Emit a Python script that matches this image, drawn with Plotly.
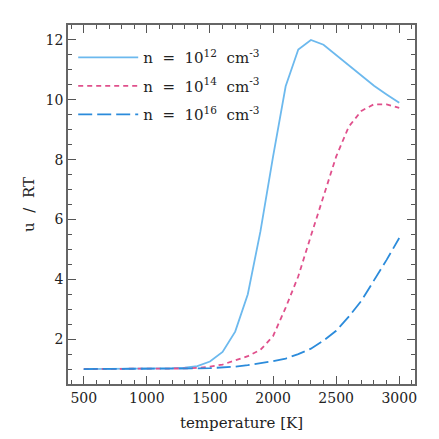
import plotly.graph_objects as go

# temperatura [K]
temperature = [500, 600, 700, 800, 900, 1000, 1100, 1200, 1300, 1400, 1500, 1600, 1700,
               1800, 1900, 2000, 2100, 2200, 2300, 2400, 2500, 2600, 2700, 2800, 2900, 3000]

# u / RT para cada densidad
u_n12 = [1.0, 1.0, 1.0, 1.0, 1.0, 1.01, 1.02, 1.03, 1.05, 1.1, 1.25, 1.57, 2.25,
         3.5, 5.6, 8.1, 10.45, 11.68, 12.0, 11.84, 11.5, 11.15, 10.8, 10.47, 10.18, 9.9]
u_n14 = [1.0, 1.0, 1.0, 1.0, 1.0, 1.0, 1.01, 1.01, 1.02, 1.04, 1.08, 1.15, 1.28,
         1.43, 1.64, 2.1, 3.05, 4.1, 5.45, 6.8, 8.1, 9.1, 9.63, 9.85, 9.85, 9.73]
u_n16 = [1.0, 1.0, 1.0, 1.0, 1.0, 1.0, 1.0, 1.01, 1.01, 1.02, 1.03, 1.05, 1.08,
         1.13, 1.19, 1.26, 1.35, 1.5, 1.68, 1.95, 2.28, 2.75, 3.28, 3.95, 4.65, 5.38]

names = ["n  =  10<sup>12</sup>  cm<sup>-3</sup>",
         "n  =  10<sup>14</sup>  cm<sup>-3</sup>",
         "n  =  10<sup>16</sup>  cm<sup>-3</sup>"]

fig = go.Figure()
fig.add_trace(go.Scatter(x=temperature, y=u_n12, mode="lines", name=names[0], legendgroup="a",
                         line=dict(color="#6cb9ee", width=1.8)))
fig.add_trace(go.Scatter(x=temperature, y=u_n14, mode="lines", name=names[1], legendgroup="b",
                         line=dict(color="#e0508c", width=1.8, dash="5px,4px")))
fig.add_trace(go.Scatter(x=temperature, y=u_n16, mode="lines", name=names[2], legendgroup="c",
                         line=dict(color="#2b8bdb", width=1.8, dash="14px,5px")))

font = "DejaVu Serif"
axis_common = dict(
    showgrid=False, zeroline=False, showline=True, linecolor="#666", linewidth=1.5,
    mirror="allticks", ticks="inside", ticklen=8, tickwidth=1.2, tickcolor="#555",
    tickfont=dict(family=font, size=14, color="#222"), automargin=False,
)

fig.update_xaxes(range=[375, 3125], tick0=0, dtick=500,
                 minor=dict(ticks="inside", dtick=100, ticklen=4, tickcolor="#555"),
                 title=dict(text="temperature [K]", font=dict(family=font, size=15, color="#222"),
                            standoff=13),
                 **axis_common)
fig.update_yaxes(range=[0.5, 12.5], tick0=0, dtick=2,
                 minor=dict(ticks="inside", dtick=0.5, ticklen=4, tickcolor="#555"),
                 title=dict(text="u  /  RT", font=dict(family=font, size=15, color="#222"),
                            standoff=7),
                 **axis_common)

# la página deja 8 px de margen, así que la figura es algo menor que la ventana
fig.update_layout(
    width=431, height=431,
    margin=dict(l=60, r=24, t=17, b=55),
    plot_bgcolor="white", paper_bgcolor="white",
    legend=dict(x=0.015, y=0.955, xanchor="left", yanchor="top",
                font=dict(family=font, size=15, color="#222"),
                bgcolor="rgba(0,0,0,0)", itemwidth=60,
                traceorder="grouped", tracegroupgap=6),
    showlegend=True,
)

fig.write_html("out.html")
